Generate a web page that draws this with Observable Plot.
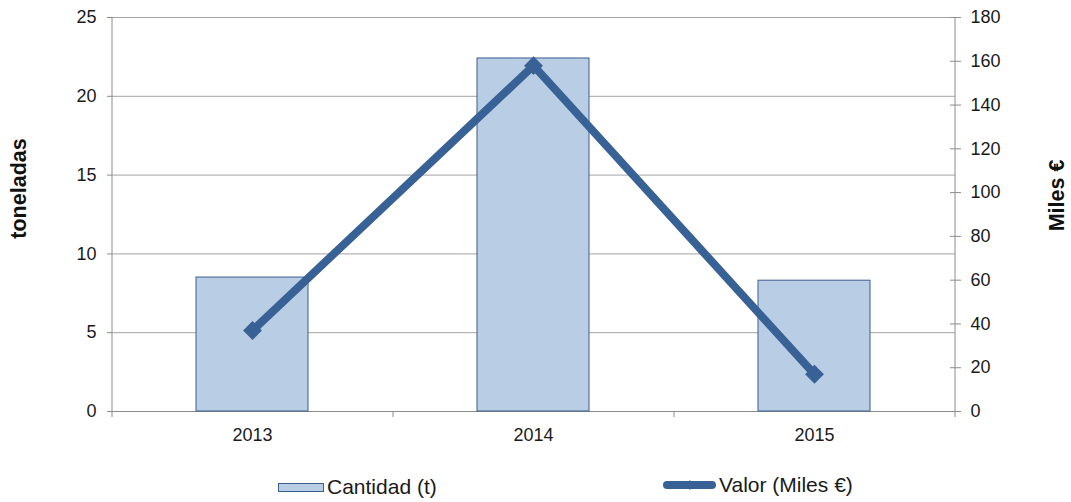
<!DOCTYPE html>
<html><head><meta charset="utf-8">
<script src="https://cdn.jsdelivr.net/npm/d3@7"></script>
<script src="https://cdn.jsdelivr.net/npm/@observablehq/plot@0.6"></script>
<style>
body{margin:0;background:#fff;font-family:"Liberation Sans",Arial,sans-serif;}
#wrap{position:relative;width:1071px;height:502px;overflow:hidden;}
#chart svg{display:block}
.leg{position:absolute;display:flex;align-items:center;font-size:21px;color:#1a1a1a;line-height:22px;height:22px;}
.sw{display:inline-block;width:44px;height:7px;background:#b9cde5;border:1px solid #3b5e8c;margin-right:3px;}
.lsw{display:inline-block;margin-right:3px;}
</style></head><body>
<div id="wrap"><div id="chart"></div>
<div class="leg" style="left:278px;top:476px;"><span class="sw"></span>Cantidad (t)</div>
<div class="leg" style="left:663px;top:474px;"><svg class="lsw" width="53" height="22"><line x1="4" y1="11" x2="49" y2="11" stroke="#386195" stroke-width="8" stroke-linecap="round"/><path d="M27,6 L31,11 L27,16 L23,11 Z" fill="#386195"/></svg>Valor (Miles €)</div>
</div>
<script>
const years = ["2013", "2014", "2015"];
const cantidad = [8.5, 22.4, 8.3];      // toneladas (left axis)
const valor = [37, 158, 17];            // Miles € (right axis)
const leftTicks = [0, 5, 10, 15, 20, 25];
const rightTicks = [0, 20, 40, 60, 80, 100, 120, 140, 160, 180];

const W = 1071, H = 455, ML = 112, MR = 116, MT = 17, MB = 44;
const ratio = 25 / 180;
const step = (W - ML - MR) / years.length;
const pxUnit = 25 / (H - MT - MB);
const tickDown = -6 * pxUnit;
const data = years.map((y, i) => ({year: y, cantidad: cantidad[i], valor: valor[i]}));

const axisColor = "#8c8c8c";
const textColor = "#1a1a1a";

const plot = Plot.plot({
  width: W, height: H,
  marginLeft: ML, marginRight: MR, marginTop: MT, marginBottom: MB,
  style: {fontFamily: "'Liberation Sans', Arial, sans-serif", fontSize: "18px", background: "#fff", color: textColor},
  x: {type: "band", domain: years, paddingInner: 0.6, paddingOuter: 0.3, axis: null},
  y: {domain: [0, 25], axis: null},
  marks: [
    Plot.gridY(leftTicks, {stroke: "#a3a3a3", strokeOpacity: 1}),
    Plot.ruleY([0], {stroke: axisColor}),
    Plot.ruleX([years[0]], {x: d => d, dx: -step / 2, y1: tickDown, y2: 25, stroke: axisColor}),
    Plot.ruleX([years[2]], {x: d => d, dx: step / 2, y1: tickDown, y2: 25, stroke: axisColor}),
    Plot.ruleX(years.slice(1), {x: d => d, dx: -step / 2, y1: tickDown, y2: 0, stroke: axisColor}),
    Plot.axisY(leftTicks, {anchor: "left", tickSize: 5, tickPadding: 11, stroke: axisColor, fill: textColor, label: null, fontSize: 18}),
    Plot.axisY(rightTicks.map(v => v * ratio), {anchor: "right", tickSize: 11, dx: -6, tickPadding: 10, tickFormat: d => String(Math.round(d / ratio)), stroke: axisColor, fill: textColor, label: null, fontSize: 18}),
    Plot.text(years, {x: d => d, y: 0, text: d => d, dy: 24, fill: textColor, fontSize: 18}),
    Plot.barY(data, {x: "year", y: "cantidad", fill: "#b9cde5", stroke: "#3b5e8c", strokeWidth: 1}),
    Plot.line(data, {x: "year", y: d => d.valor * ratio, stroke: "#386195", strokeWidth: 8}),
    Plot.dot(data, {x: "year", y: d => d.valor * ratio, symbol: "diamond2", r: 8.5, fill: "#386195", stroke: null}),
    Plot.text(["toneladas"], {text: d => d, frameAnchor: "left", textAnchor: "middle", dx: -93, dy: -26, rotate: -90, fontSize: 21.5, fontWeight: "bold", fill: "#111"}),
    Plot.text(["Miles €"], {text: d => d, frameAnchor: "right", textAnchor: "middle", dx: 102, dy: -19, rotate: -90, fontSize: 21.5, fontWeight: "bold", fill: "#111"})
  ]
});
document.getElementById("chart").appendChild(plot);
</script>
</body></html>
